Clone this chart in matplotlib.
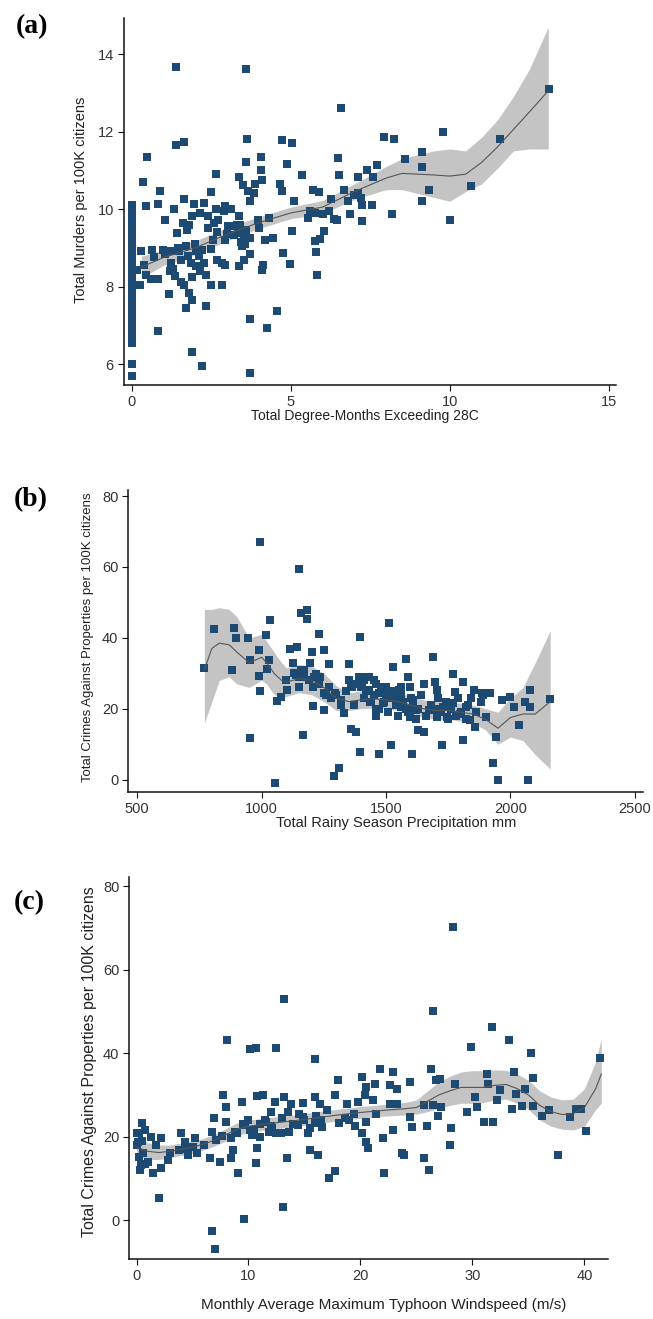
import matplotlib
matplotlib.use("Agg")
import matplotlib.pyplot as plt
import numpy as np

# ---------------- Panel (a) data ----------------
a_col0_y = [10.1, 10.0, 9.9, 9.8, 9.7, 9.6, 9.5, 9.4, 9.3, 9.15, 9.05, 8.95, 8.85, 8.75,
            8.65, 8.55, 8.45, 8.35, 8.25, 8.15, 8.05, 7.95, 7.75, 7.65, 7.55, 7.45, 7.35,
            7.25, 7.15, 7.05, 6.95, 6.85, 6.75, 6.65, 6.55, 6.0, 5.7]
a_x = [1.39, 3.59, 6.58, 9.79, 13.13, 11.59, 7.92, 8.25, 3.62, 4.74, 5.03, 1.39, 1.63, 9.13,
       8.6, 6.49, 7.72, 7.39, 9.13, 3.59, 4.87, 4.08, 0.47, 2.65, 4.05, 5.36, 6.52, 7.13,
       7.59, 3.38, 4.09, 0.35, 10.67, 9.36, 4.67, 3.88, 3.5, 3.67, 3.85, 5.7, 5.9, 6.67,
       7.13, 7.22, 0.9, 2.48, 4.71, 1.63, 3.72, 9.13, 5.1, 6.28, 0.45, 0.84, 1.95, 2.28,
       7.55, 6.81, 1.34, 2.65, 2.94, 3.13, 1.06, 8.18, 10.01, 5.53, 5.77, 6.03, 6.45, 6.87,
       7.23, 3.96, 4.33, 1.89, 2.15, 2.41, 2.72, 3.36, 1.81, 1.43, 2.41, 3.04, 5.03, 6.06,
       5.92, 5.76, 2.67, 2.94, 3.2, 3.52, 3.33, 3.72, 4.18, 4.44, 3.46, 0.28, 0.64, 0.97,
       1.23, 1.5, 1.7, 2.03, 2.48, 3.72, 4.77, 5.78, 0.38, 0.45, 0.18, 0.84, 1.23, 1.23,
       1.36, 1.55, 1.76, 1.86, 2.02, 2.15, 2.34, 2.48, 2.28, 2.67, 2.84, 2.94, 3.36, 3.52,
       4.12, 4.09, 4.97, 1.55, 2.84, 5.82, 1.17, 1.81, 1.91, 1.72, 2.32, 0.81, 3.72, 4.57,
       4.25, 1.91, 2.22, 3.72,
       1.6, 1.75, 2.0, 2.1, 1.3, 1.45, 2.55, 3.25, 3.45, 3.6, 3.4, 1.2, 1.9, 2.2, 2.6,
       0.6, 0.7, 0.25, 1.05, 1.65, 3.0, 3.3, 3.55, 2.9, 4.0, 6.2, 6.35, 5.6, 7.25, 7.0]
a_y = [13.67, 13.61, 12.62, 11.99, 13.09, 11.82, 11.87, 11.8, 11.82, 11.78, 11.7, 11.65, 11.73,
       11.47, 11.28, 11.33, 11.14, 11.02, 11.08, 11.22, 11.16, 11.34, 11.35, 10.91, 11.01,
       10.87, 10.88, 10.84, 10.83, 10.82, 10.76, 10.69, 10.59, 10.5, 10.65, 10.65, 10.61,
       10.46, 10.42, 10.5, 10.44, 10.48, 10.42, 10.29, 10.46, 10.44, 10.46, 10.27, 10.2, 10.2,
       10.2, 10.26, 10.07, 10.14, 10.14, 10.16, 10.1, 10.2, 10.0, 10.0, 10.08, 10.0, 9.73,
       9.88, 9.73, 9.77, 9.9, 9.86, 9.73, 9.86, 9.69, 9.73, 9.77, 9.82, 9.9, 9.82, 9.73, 9.82,
       9.6, 9.38, 9.51, 9.56, 9.43, 9.43, 9.24, 9.17, 9.41, 9.21, 9.34, 9.3, 9.38, 9.25, 9.19,
       9.25, 9.04, 8.91, 8.95, 8.95, 8.91, 8.91, 9.04, 8.91, 8.97, 8.85, 8.87, 8.89, 8.56,
       8.3, 8.43, 8.19, 8.61, 8.39, 8.26, 8.69, 8.78, 8.61, 8.52, 8.39, 8.3, 8.05, 8.61, 8.69,
       8.61, 8.56, 8.54, 8.69, 8.56, 8.42, 8.58, 8.12, 8.05, 8.29, 7.8, 7.83, 7.66, 7.44, 7.5,
       6.86, 7.17, 7.36, 6.92, 6.31, 5.96, 5.78,
       9.65, 9.45, 9.1, 8.8, 8.45, 9.0, 9.2, 9.55, 9.15, 9.45, 9.6, 8.4, 8.25, 8.95, 9.65,
       8.2, 8.75, 8.05, 8.85, 8.05, 9.35, 9.6, 9.1, 9.95, 9.5, 9.95, 9.75, 9.95, 10.1, 10.35]
a_fit_x = [0.3, 1.0, 2.0, 3.0, 4.0, 5.0, 6.0, 7.0, 8.0, 8.5, 9.0, 9.5, 10.0, 10.5, 11.0,
           11.5, 12.0, 12.5, 13.1]
a_fit_y = [8.5, 8.75, 9.0, 9.35, 9.65, 9.9, 10.05, 10.45, 10.8, 10.92, 10.9, 10.88, 10.85,
           10.9, 11.2, 11.6, 12.05, 12.5, 13.05]
a_lo = [8.22, 8.55, 8.82, 9.18, 9.5, 9.75, 9.88, 10.25, 10.5, 10.5, 10.4, 10.3, 10.2,
        10.45, 10.65, 11.05, 11.5, 11.55, 11.55]
a_hi = [8.78, 8.95, 9.18, 9.52, 9.8, 10.05, 10.22, 10.65, 11.1, 11.3, 11.4, 11.5, 11.55,
        11.5, 11.85, 12.3, 12.9, 13.6, 14.7]

# ---------------- Panel (b) data ----------------
b_x = [768, 809, 880, 890, 898, 946, 955, 955, 993, 990, 990, 993, 1018, 1022, 1031, 1035,
       1052, 1060, 1079, 1102, 1114, 1127, 1140, 1150, 1144, 1152, 1160, 1182, 1182, 1166,
       1160, 1172, 1194, 1202, 1219, 1205, 1205, 1232, 1235, 1249, 1252, 1249, 1269, 1269,
       1294, 1289, 1311, 1319, 1333, 1353, 1353, 1363, 1361, 1370, 1378, 1395, 1395, 1403,
       1420, 1433, 1436, 1453, 1461, 1473, 1470, 1486, 1512, 1520, 1528, 1537, 1554, 1562,
       1579, 1587, 1596, 1596, 1604, 1609, 1621, 1629, 1651, 1654, 1671, 1688, 1696, 1704,
       1704, 1725, 1729, 1746, 1768, 1771, 1779, 1796, 1809, 1809, 1821, 1838, 1854, 1858,
       1885, 1902, 1918, 1931, 1943, 1952, 1968, 1997, 2014, 2035, 2060, 2069, 2077, 2077,
       2161,
       1380, 1400, 1410, 1420, 1440, 1450, 1460, 1470, 1480, 1490, 1500, 1510, 1520, 1540,
       1550, 1560, 1570, 1580, 1590, 1600, 1610, 1620, 1630, 1640, 1660, 1680, 1700, 1710,
       1720, 1740, 1750, 1760, 1780, 1790, 1800, 1820, 1830, 1840, 1860, 1880, 1890, 1100,
       1130, 1150, 1170, 1190, 1210, 1230, 1260, 1280, 1300, 1320, 1340, 1360, 1390, 1410,
       1430, 1460, 1480, 1500, 1530, 1560]
b_y = [31.5, 42.4, 31.0, 42.8, 39.9, 39.9, 33.8, 11.6, 67.0, 36.5, 29.2, 25.0, 40.9, 31.2,
       33.7, 44.9, -1.0, 22.2, 23.3, 25.2, 36.8, 32.8, 29.5, 59.3, 37.5, 26.0, 46.9, 47.8,
       45.3, 12.5, 30.9, 29.0, 32.8, 36.0, 29.9, 26.2, 20.7, 41.2, 29.0, 36.5, 24.3, 19.6,
       32.5, 26.2, 24.3, 0.9, 3.4, 22.4, 18.8, 32.6, 28.0, 26.2, 14.4, 21.0, 13.5, 40.3, 7.8,
       27.1, 29.0, 25.2, 21.9, 28.0, 19.6, 7.1, 24.3, 21.5, 44.3, 9.7, 31.8, 23.3, 25.2, 20.5,
       34.0, 29.0, 26.2, 17.7, 7.2, 22.4, 19.6, 13.9, 13.5, 27.1, 19.6, 34.6, 27.6, 25.2,
       17.7, 9.7, 20.5, 17.7, 29.9, 21.5, 24.8, 18.6, 27.6, 11.1, 20.5, 16.8, 25.2, 14.9,
       24.3, 17.7, 24.3, 4.8, 12.0, -0.2, 22.4, 23.3, 20.5, 15.3, 21.9, 0.0, 25.2, 20.5,
       22.7,
       27, 26, 23, 25, 22, 24, 18, 20, 26, 22, 24, 19, 23, 21, 18, 24, 22, 20, 19, 23, 21,
       17, 20, 24, 18, 21, 20, 23, 19, 22, 17, 20, 18, 23, 19, 17, 21, 23, 19, 22, 24, 28,
       30, 29, 31, 28, 29, 27, 24, 23, 24, 21, 25, 26, 29, 28, 29, 27, 25, 26, 25, 26]
b_fit_x = [770, 800, 830, 870, 900, 950, 1000, 1020, 1050, 1080, 1100, 1150, 1200, 1250,
           1300, 1350, 1400, 1450, 1500, 1550, 1600, 1650, 1700, 1750, 1800, 1850, 1900,
           1950, 2000, 2050, 2100, 2160]
b_fit_y = [31, 37, 38.5, 38, 36, 33, 34.5, 33, 30, 28, 27.5, 28.5, 28, 26, 23, 22, 22.5,
           22.8, 22.5, 22, 21, 20, 19.5, 19.5, 19, 18.5, 17, 14.5, 17.5, 18.5, 18.5, 22]
b_lo = [16, 22, 28, 29, 27, 26, 28, 27, 24, 23, 23.5, 24.5, 24, 22, 19.5, 19.5, 20,
        20.2, 20, 19.5, 18.5, 17.5, 17, 17, 16.5, 16, 14, 10, 12, 11, 7, 3]
b_hi = [48, 48, 48.5, 48, 46, 40, 41, 39, 36, 33, 31.5, 32.5, 32, 30, 26.5, 24.5, 25,
        25.3, 25, 24.5, 23.5, 22.5, 22, 22, 21.5, 21, 20, 19, 23, 26, 33, 42]

# ---------------- Panel (c) data ----------------
c_x = [28.3, 13.2, 26.5, 8.1, 10.1, 10.7, 12.5, 29.9, 31.7, 33.3, 35.2, 41.4, 15.9, 21.7,
       22.9, 26.3, 31.3, 33.7, 35.4, 20.1, 18.0, 26.7, 27.1, 20.5, 21.3, 22.6, 23.3, 24.4,
       28.4, 31.4, 32.5, 33.9, 34.7, 7.7, 10.8, 11.3, 13.2, 17.7, 20.4, 30.2, 8.0, 9.4,
       12.4, 13.8, 14.9, 15.9, 16.4, 18.8, 19.8, 21.1, 22.6, 23.3, 25.7, 26.5, 27.2, 29.5,
       30.4, 31.8, 31.0, 32.2, 33.5, 34.4, 35.4, 36.2, 36.8, 38.7, 39.2, 39.7, 40.1, 37.6,
       28.1, 28.0, 26.9, 25.9, 25.7, 26.1, 24.4, 24.6, 23.7, 23.9, 22.9, 22.0, 22.1, 21.4,
       20.5, 20.7, 20.5, 20.1, 19.4, 18.6, 18.1, 17.7, 17.2, 16.6, 16.2, 15.5, 15.9, 15.3,
       14.9, 14.4, 13.6, 13.4, 13.1, 12.9, 12.1, 11.8, 11.6, 10.8, 10.7, 10.3, 10.1, 9.7,
       9.1, 9.6, 8.8, 8.6, 8.4, 8.4, 8.0, 7.6, 7.5, 7.1, 6.9, 6.7, 6.6, 6.7, 7.0, 5.4, 5.2,
       4.6, 4.3, 4.0, 3.8, 2.8, 2.2, 2.2, 2.0, 1.7, 1.5, 1.3, 0.75, 0.56, 0.37, 0.3, 0.5,
       0.26, 0.1, 0.2,
       11.0, 11.5, 12.0, 12.5, 13.0, 13.5, 14.0, 14.5, 15.0, 15.5, 16.0, 16.5, 17.0, 19.0,
       19.5, 9.0, 9.5, 10.5, 10.0, 11.0, 12.0, 3.0, 4.5, 5.0, 6.0, 1.0, 0.5, 0.0, 0.0, 0.8]
c_y = [70.3, 53.0, 50.1, 43.1, 41.1, 41.3, 41.3, 41.5, 46.3, 43.1, 40.1, 38.9, 38.7, 36.1,
       35.4, 36.3, 35.1, 35.4, 34.1, 34.3, 33.5, 33.5, 33.9, 31.9, 32.7, 32.3, 31.5, 33.1,
       32.7, 32.5, 31.1, 30.3, 31.5, 29.9, 29.7, 30.1, 29.5, 30.1, 29.9, 29.5, 27.1, 28.3,
       28.3, 27.9, 28.0, 29.4, 27.9, 27.9, 28.3, 28.7, 27.9, 27.9, 27.5, 27.5, 27.1, 25.9,
       27.0, 23.6, 23.4, 28.7, 26.7, 27.3, 27.4, 24.9, 26.3, 24.8, 26.7, 26.7, 21.4, 15.6,
       22.0, 18.0, 25.0, 22.5, 14.8, 12.0, 24.8, 22.4, 16.0, 15.7, 21.6, 19.6, 11.2, 25.5,
       23.6, 17.2, 18.8, 20.8, 25.5, 24.4, 23.2, 11.8, 10.2, 22.4, 15.6, 16.8, 23.2, 20.8,
       24.8, 22.8, 21.2, 15.0, 3.2, 20.8, 22.0, 21.2, 23.6, 17.2, 13.7, 20.4, 21.6, 22.8,
       11.2, 0.4, 21.2, 16.8, 15.0, 19.6, 23.6, 20.1, 14.0, 19.2, 24.4, 21.2, 14.8, -2.6,
       -7.0, 16.0, 19.6, 15.6, 18.8, 20.8, 16.8, 14.4, 19.6, 12.4, 5.3, 18.0, 11.3, 20.0,
       21.6, 16.0, 13.2, 12.0, 23.2, 20.8, 18.8, 15.2,
       23, 24, 22.5, 21, 24.5, 26, 23, 25.5, 24, 22, 25, 24, 26.5, 24, 22.5, 21, 23, 21.5,
       24, 20, 26, 16, 17, 17.5, 18, 14, 19, 18, 21, 13.5]
c_fit_x = [0, 1, 2, 3, 4, 5, 6, 7, 8, 9, 10, 12, 14, 16, 18, 20, 22, 24, 25, 26, 27, 28,
           29, 30, 31, 32, 33, 34, 35, 36, 37, 38, 39, 40, 41, 41.5]
c_fit_y = [17.5, 16.5, 16.2, 16.5, 17, 17.5, 18.2, 19.2, 20.5, 21.8, 22.5, 23.2, 23.8,
           24.5, 25.2, 25.8, 26.3, 26.7, 27, 28.5, 30, 31, 31.8, 31.8, 31.8, 32.3, 32.5,
           31.5, 30, 27.5, 26, 25.3, 25.5, 27, 31.5, 35]
c_lo = [15.2, 14.6, 14.5, 15.0, 15.5, 16.0, 16.8, 17.8, 19.0, 20.3, 21.0, 21.8, 22.4,
        23.1, 23.8, 24.4, 24.9, 25.2, 25.4, 26.0, 26.8, 27.5, 28.0, 28.0, 28.2, 28.8,
        29.0, 28.0, 26.5, 24.0, 22.5, 21.8, 21.6, 22.5, 26.5, 28.0]
c_hi = [20.0, 18.5, 18.0, 18.0, 18.5, 19.0, 19.6, 20.6, 22.0, 23.3, 24.0, 24.6, 25.2,
        25.9, 26.6, 27.2, 27.7, 28.2, 28.8, 31.0, 33.2, 34.5, 35.5, 35.8, 35.8, 36.0, 35.9,
        35.0, 33.5, 31.0, 29.5, 28.8, 29.0, 31.5, 38.0, 43.5]

# ---------------- Styling ----------------
W, H = 653, 1319
fig = plt.figure(figsize=(W / 100, H / 100), dpi=100)
PT_COLOR = "#1d4a73"
BAND = "#c4c4c4"
LINE = "#555555"
TICKC = "#333333"
FONT = "Liberation Sans"


def fx(px):
    return px / W


def fy(py):
    return 1 - py / H


def panel(box, xs, ys, fit_x, fit_y, lo, hi, xlim, ylim, xticks, yticks):
    left, top, right, bottom = box
    ax = fig.add_axes([fx(left), fy(bottom), fx(right) - fx(left), fy(top) - fy(bottom)])
    ax.fill_between(fit_x, lo, hi, color=BAND, lw=0, zorder=1)
    ax.scatter(xs, ys, marker="s", s=34, color=PT_COLOR, lw=0, zorder=2)
    ax.plot(fit_x, fit_y, color=LINE, lw=0.8, zorder=3)
    ax.set_xlim(*xlim)
    ax.set_ylim(*ylim)
    ax.set_xticks(xticks)
    ax.set_yticks(yticks)
    for s in ("top", "right"):
        ax.spines[s].set_visible(False)
    for s in ("left", "bottom"):
        ax.spines[s].set_linewidth(1.1)
        ax.spines[s].set_color("#111111")
    ax.tick_params(direction="out", length=4, width=0.8, colors="#111111",
                   labelcolor=TICKC, labelsize=10.5, pad=3)
    for lab in ax.get_xticklabels() + ax.get_yticklabels():
        lab.set_fontfamily(FONT)
    return ax


# (a)
panel((123.5, 18, 616, 385), [0] * len(a_col0_y) + a_x, a_col0_y + a_y,
      a_fit_x, a_fit_y, a_lo, a_hi, (-0.26, 15.23), (5.46, 14.93),
      [0, 5, 10, 15], [6, 8, 10, 12, 14])
fig.text(fx(365), fy(416), "Total Degree-Months Exceeding 28C", ha="center", va="center",
         fontsize=10, family=FONT, color="#222222")
fig.text(fx(81), fy(200), "Total Murders per 100K citizens", ha="center", va="center",
         rotation=90, fontsize=10.5, family=FONT, color="#222222")
fig.text(fx(32), fy(27), "(a)", ha="center", va="center", fontsize=20,
         family="Liberation Serif", fontweight="bold")

# (b)
panel((128, 490, 643, 792), b_x, b_y, b_fit_x, b_fit_y, b_lo, b_hi,
      (463, 2533), (-3.5, 81.7), [500, 1000, 1500, 2000, 2500], [0, 20, 40, 60, 80])
fig.text(fx(396), fy(823), "Total Rainy Season Precipitation mm", ha="center",
         va="center", fontsize=10.5, family=FONT, color="#222222")
fig.text(fx(88), fy(637), "Total Crimes Against Properties per 100K citizens", ha="center",
         va="center", rotation=90, fontsize=9.5, family=FONT, color="#222222")
fig.text(fx(31), fy(500), "(b)", ha="center", va="center", fontsize=20,
         family="Liberation Serif", fontweight="bold")

# (c)
panel((129, 877, 608, 1259), c_x, c_y, c_fit_x, c_fit_y, c_lo, c_hi,
      (-0.67, 42.1), (-9.3, 82.2), [0, 10, 20, 30, 40], [0, 20, 40, 60, 80])
fig.text(fx(384), fy(1305), "Monthly Average Maximum Typhoon Windspeed (m/s)", ha="center",
         va="center", fontsize=11, family=FONT, color="#222222")
fig.text(fx(90), fy(1062), "Total Crimes Against Properties per 100K citizens", ha="center",
         va="center", rotation=90, fontsize=11.5, family=FONT, color="#222222")
fig.text(fx(29), fy(903), "(c)", ha="center", va="center", fontsize=20,
         family="Liberation Serif", fontweight="bold")

fig.savefig("out.png", dpi=100)
